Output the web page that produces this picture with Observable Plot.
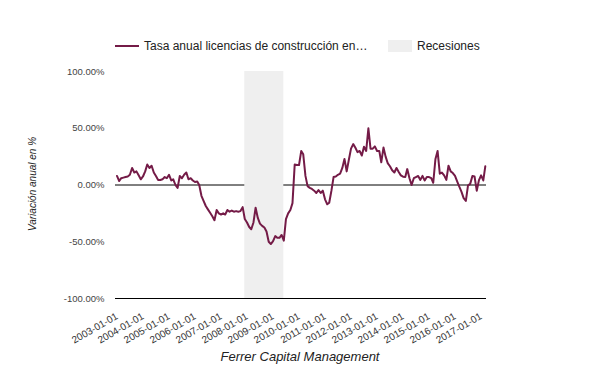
<!DOCTYPE html>
<html><head><meta charset="utf-8">
<script src="https://cdn.jsdelivr.net/npm/d3@7"></script>
<script src="https://cdn.jsdelivr.net/npm/@observablehq/plot@0.6"></script>
<style>
body{margin:0;background:#fff;}
#wrap{position:relative;width:600px;height:371px;font-family:Arial,"Liberation Sans",sans-serif;overflow:hidden;}
#wrap svg{position:absolute;left:0;top:0;}
.abs{position:absolute;white-space:nowrap;}
</style></head><body><div id="wrap"></div>
<script>
const seriesName = "Tasa anual licencias de construcción en…";
const recessionName = "Recesiones";
const yTitle = "Variación anual en %";
const caption = "Ferrer Capital Management";
const startMonth = "2003-01-01";
const values = [
  8, 3.5, 6, 6.5, 7, 7.5, 9, 15, 11, 12,
  8.5, 5, 7.5, 12, 18, 15, 17, 11, 8, 4.5,
  4.4, 5, 7, 6, 9, 4, 5, 0, -2.6, 8,
  6, 9, 11, 5, 6, 4, 2.6, 3, 0, -9.5,
  -14, -18.5, -21.5, -24.5, -27.5, -31, -22, -25, -26, -25,
  -26, -22, -23.5, -22.5, -23.5, -23, -23.5, -23, -19.5, -30,
  -33, -37, -39, -33, -20, -29, -34, -36, -37.5, -41,
  -50, -52, -49.5, -45, -46.5, -46.5, -44, -49, -30, -25,
  -22, -16, 18, 17.6, 17.6, 30, 27, 8, -1, -2.5,
  -3.5, -5, -7, -4.5, -7, -5, -12.6, -17, -15.6, -5,
  7, 7.5, 9, 10, 15, 23, 12, 22, 32, 36,
  33, 29, 30, 26, 33.7, 30, 50, 32, 32, 34,
  30, 30, 20, 33, 25, 19, 16.5, 13, 11, 15,
  11.5, 8.5, 7.3, 7, 14, 6, 0, 6, 7, 8,
  4.5, 8, 4, 7, 7, 6, 2, 23, 30, 10,
  11, 8.5, 4.5, 17, 12, 10.5, 8, 3, -1.5, -6,
  -11.5, -14, -0.5, 1, 8, 7.5, -5, 4, 8.5, 4, 16.5
];
const yTicks = [-100, -50, 0, 50, 100];
const xTicks = ["2003-01-01","2004-01-01","2005-01-01","2006-01-01","2007-01-01","2008-01-01","2009-01-01","2010-01-01","2011-01-01","2012-01-01","2013-01-01","2014-01-01","2015-01-01","2016-01-01","2017-01-01"];
const recessions = [{start: "2007-12-01", end: "2009-06-01"}];
const xDomain = ["2002-12-11", "2017-03-18"];

const lineColor = "#741b47";
const bandColor = "#efefef";
const font = 'Arial, "Liberation Sans", sans-serif';

const start = new Date(startMonth);
const data = values.map((v, i) => ({date: d3.utcMonth.offset(start, i), value: v}));
const rec = recessions.map(r => ({x1: new Date(r.start), x2: new Date(r.end)}));

const chart = Plot.plot({
  width: 600, height: 371,
  marginLeft: 115, marginRight: 114, marginTop: 71, marginBottom: 73,
  style: {fontFamily: font, background: "transparent"},
  x: {type: "utc", domain: xDomain.map(d => new Date(d))},
  y: {domain: [-100, 100]},
  marks: [
    Plot.ruleY([0], {stroke: "#000", strokeWidth: 1}),
    Plot.rect(rec, {x1: "x1", x2: "x2", fill: bandColor}),
    Plot.ruleY([-100], {stroke: "#000", strokeWidth: 1}),
    Plot.axisY({ticks: yTicks, tickSize: 0, tickPadding: 11, tickFormat: d => d.toFixed(2) + "%", fontSize: 9.5, fill: "#444", label: null}),
    Plot.axisX({ticks: xTicks.map(d => new Date(d)), tickSize: 0, tickPadding: 17, tickRotate: -30, textAnchor: "end", tickFormat: d3.utcFormat("%Y-%m-%d"), fontSize: 10, fill: "#333", label: null}),
    Plot.lineY(data, {x: "date", y: "value", stroke: lineColor, strokeWidth: 2})
  ]
});

const wrap = document.getElementById("wrap");
wrap.appendChild(chart);

function addDiv(html, css) {
  const d = document.createElement("div");
  d.className = "abs";
  d.textContent = html;
  Object.assign(d.style, css);
  wrap.appendChild(d);
  return d;
}
// legend
const ls = document.createElement("div");
ls.className = "abs";
Object.assign(ls.style, {left: "115px", top: "45px", width: "24px", height: "2px", background: lineColor});
wrap.appendChild(ls);
addDiv(seriesName, {left: "144px", top: "38px", fontSize: "12px", color: "#222", lineHeight: "16px"});
const lb = document.createElement("div");
lb.className = "abs";
Object.assign(lb.style, {left: "388px", top: "40px", width: "24px", height: "12px", background: bandColor});
wrap.appendChild(lb);
addDiv(recessionName, {left: "417px", top: "38px", fontSize: "12px", color: "#222", lineHeight: "16px"});
// caption
addDiv(caption, {left: "0px", width: "600px", textAlign: "center", top: "348px", fontSize: "13px", fontStyle: "italic", color: "#222", lineHeight: "18px"});
// y title
addDiv(yTitle, {left: "33px", top: "184px", fontSize: "10px", fontStyle: "italic", color: "#222", transform: "translate(-50%,-50%) rotate(-90deg)", lineHeight: "12px"});
</script>
</body></html>
